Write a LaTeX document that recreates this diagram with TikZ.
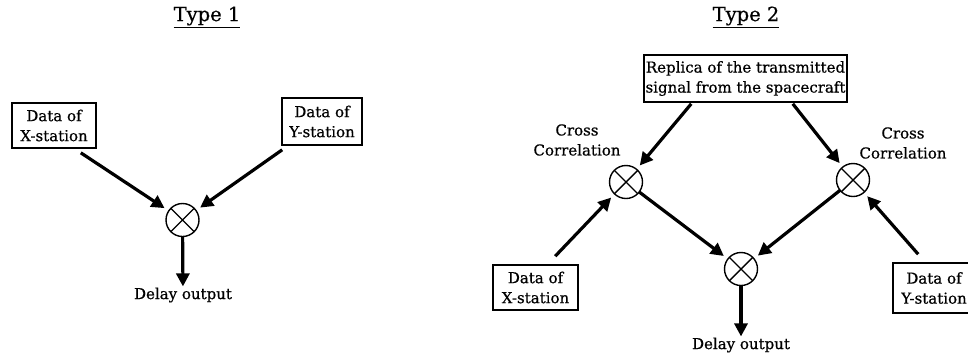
\documentclass[tikz,border=0pt]{standalone}
\usepackage{fontspec}
\setmainfont{DejaVu Serif}[FakeBold=0.6]
\usetikzlibrary{arrows.meta,calc}
\begin{document}
\begin{tikzpicture}[x=1pt,y=-1pt,
  txt/.style={font=\fontsize{15}{20}\selectfont, align=center, inner sep=0pt},
  databox/.style={draw, line width=1.6pt, font=\fontsize{15}{20}\selectfont, align=center, inner sep=0pt},
  mixer/.style={circle, draw, line width=1.4pt, minimum size=33pt, inner sep=0pt, outer sep=0pt},
  flow/.style={line width=3.2pt, -{Triangle[length=13pt,width=13pt]}, shorten >=5pt},
  title/.style={font=\fontsize{19.5}{22}\selectfont, inner sep=0pt}]
\fill[white] (0,0) rectangle (968,354);
\useasboundingbox (0,0) rectangle (968,354);
\newcommand{\crossmark}[1]{\draw[line width=1.4pt] (#1.45) -- (#1.225) (#1.135) -- (#1.-45);}

% ---------- Type 1 ----------
\node[title] (t1) at (207,17) {\underline{Type 1}};
\node[databox, minimum width=84pt, minimum height=45pt] (x1) at (54,125.5) {Data of\\X-station};
\node[databox, minimum width=80pt, minimum height=47pt] (y1) at (322,121.5) {Data of\\Y-station};
\node[mixer] (m1) at (182.5,220) {};
\crossmark{m1}
\node[txt] (d1) at (183,295) {Delay output};
\draw[flow] ([xshift=-16pt,yshift=-4pt]x1.south east) -- (m1);
\draw[flow] ([xshift=1pt,yshift=-4pt]y1.south west) -- (m1);
\draw[flow, shorten >=1pt] (m1) -- (d1);

% ---------- Type 2 ----------
\node[title] (t2) at (746,17) {\underline{Type 2}};
\node[databox, minimum width=203pt, minimum height=47pt] (rep) at (745.5,78.5) {Replica of the transmitted\\signal from the spacecraft};
\node[mixer] (ml) at (626,182) {};
\crossmark{ml}
\node[mixer] (mr) at (853,180) {};
\crossmark{mr}
\node[mixer] (mb) at (741,269) {};
\crossmark{mb}
\node[txt] (ccl) at (577,140) {Cross\\Correlation};
\node[txt] (ccr) at (903,143) {Cross\\Correlation};
\node[databox, minimum width=85pt, minimum height=45pt] (x2) at (535.5,287.5) {Data of\\X-station};
\node[databox, minimum width=82pt, minimum height=50pt] (y2) at (934,288) {Data of\\Y-station};
\node[txt] (d2) at (741,345) {Delay output};
\draw[flow] ([xshift=48pt,yshift=-1pt]rep.south west) -- (ml);
\draw[flow] ([xshift=-55pt,yshift=-1pt]rep.south east) -- (mr);
\draw[flow] ([xshift=63pt,yshift=8pt]x2.north west) -- (ml);
\draw[flow] ([xshift=26pt,yshift=8pt]y2.north west) -- (mr);
\draw[flow] (ml) -- (mb);
\draw[flow] (mr) -- (mb);
\draw[flow, shorten >=1pt] (mb) -- (d2);
\end{tikzpicture}
\end{document}
